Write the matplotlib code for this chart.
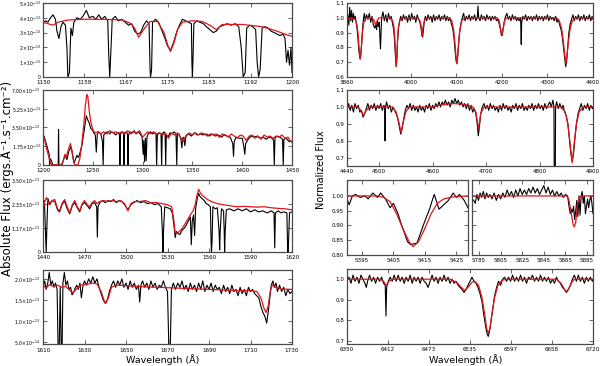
import matplotlib
matplotlib.use("Agg")
import matplotlib.pyplot as plt

plt.rcParams['font.family'] = ['DejaVu Sans']
plt.rcParams['mathtext.fontset'] = 'dejavusans'

FLUX_UNIT = 1e-13

# ---------------- UV panels (flux in units of 1e-13) ----------------
L1_MODEL = [(1150, 3.7), (1151, 3.6), (1152, 3.5), (1153, 3.7), (1155, 3.85), (1158, 3.9), (1162, 3.9),
            (1166, 3.85), (1167.7, 3.6), (1168.4, 3.3), (1169.2, 2.68), (1170.4, 3.3), (1171.5, 3.75),
            (1173, 3.75), (1174.3, 3.0), (1175, 2.2), (1175.6, 1.72), (1176.3, 2.3), (1177, 3.2),
            (1178, 3.7), (1180, 3.8), (1182, 3.75), (1183.5, 3.5), (1184.8, 3.2), (1186, 3.55),
            (1190, 3.55), (1194, 3.4), (1197, 3.1), (1198.5, 2.9), (1200, 2.75)]
L1_OBS = [(1150.0, 3.6), (1150.5, 3.8), (1151.0, 3.7), (1151.5, 4.0), (1152.0, 4.2), (1152.5, 3.9),
          (1152.8, 3.1), (1153.2, 2.6), (1153.6, 3.4), (1154.0, 3.7), (1154.5, 3.5), (1154.8, 2.0),
          (1155.0, 0.0), (1155.3, 0.3), (1155.6, 3.3), (1155.9, 2.8), (1156.2, 3.7), (1156.8, 4.0),
          (1157.5, 3.9), (1158.0, 4.1), (1158.7, 4.5), (1159.3, 4.0), (1160.0, 4.1), (1160.6, 3.9),
          (1161.2, 4.2), (1161.8, 3.9), (1162.4, 4.1), (1163.0, 3.8), (1163.2, 1.5), (1163.4, 0.0),
          (1163.6, 1.5), (1163.9, 3.9), (1164.5, 4.1), (1165.1, 3.8), (1165.8, 3.9), (1166.5, 3.7),
          (1167.2, 3.5), (1167.8, 3.6), (1168.4, 3.1), (1169.0, 2.9), (1169.6, 3.0), (1170.2, 3.5),
          (1170.8, 3.8), (1171.3, 3.6), (1171.5, 0.5), (1171.6, 0.0), (1171.8, 0.5), (1172.0, 3.7),
          (1172.6, 3.9), (1173.2, 3.7), (1173.8, 3.2), (1174.5, 2.6), (1175.0, 2.1), (1175.6, 1.8),
          (1176.2, 2.3), (1176.8, 3.0), (1177.4, 3.5), (1178.0, 3.9), (1178.6, 3.8), (1179.2, 3.7),
          (1179.8, 3.6), (1179.9, 1.0), (1180.0, 0.0), (1180.1, 1.0), (1180.3, 3.6), (1180.9, 3.8),
          (1181.5, 3.7), (1182.2, 3.6), (1182.8, 3.4), (1183.5, 3.2), (1184.2, 3.0), (1184.8, 3.1),
          (1185.5, 3.4), (1186.2, 3.5), (1187.0, 3.6), (1187.8, 3.5), (1188.6, 3.6), (1189.3, 3.4),
          (1189.8, 2.0), (1190.2, 0.0), (1190.6, 0.3), (1190.9, 3.3), (1191.5, 3.5), (1192.1, 3.4),
          (1192.7, 3.2), (1193.0, 1.0), (1193.3, 0.0), (1193.6, 0.5), (1194.0, 3.3), (1194.6, 3.4),
          (1195.2, 3.3), (1195.8, 3.1), (1196.4, 3.0), (1197.0, 2.9), (1197.6, 2.8), (1198.2, 2.9),
          (1198.6, 2.6), (1198.9, 1.0), (1199.2, 1.8), (1199.5, 0.8), (1199.8, 2.0), (1200.0, 0.3)]

L2_MODEL = [(1200, 2.8), (1202, 2.2), (1204, 1.4), (1206, 0.7), (1208, 0.1), (1210, 0.0), (1218, 0.0),
            (1220, 0.3), (1222, 1.0), (1223.5, 0.8), (1225, 1.3), (1227.5, 2.0), (1229.5, 1.2),
            (1231, 0.2), (1232.5, 0.0), (1235, 0.0), (1237, 0.6), (1239, 2.0), (1241, 3.8),
            (1242.5, 5.5), (1244, 6.6), (1245, 6.4), (1246.5, 5.0), (1248, 4.0), (1250, 3.3),
            (1252, 3.0), (1255, 3.1), (1258, 2.9), (1261, 3.1), (1264, 2.9), (1267, 3.2), (1270, 3.0),
            (1273, 3.1), (1276, 2.9), (1279, 3.1), (1282, 2.9), (1285, 3.2), (1288, 2.9), (1291, 3.1),
            (1294, 3.0), (1297, 3.2), (1300, 2.6), (1302, 2.8), (1305, 3.1), (1308, 2.9), (1311, 3.1),
            (1314, 2.9), (1317, 3.0), (1320, 2.8), (1323, 3.0), (1326, 2.5), (1329, 3.0), (1332, 2.8),
            (1335, 3.0), (1338, 2.6), (1341, 2.2), (1344, 2.8), (1347, 3.0), (1350, 2.8), (1353, 3.0),
            (1356, 2.8), (1359, 3.0), (1362, 2.9), (1365, 2.7), (1368, 2.9), (1371, 2.8), (1374, 2.9),
            (1377, 2.6), (1380, 2.9), (1383, 2.8), (1386, 2.6), (1389, 2.9), (1392, 2.7), (1395, 2.5),
            (1398, 2.8), (1401, 2.7), (1404, 2.3), (1407, 2.7), (1410, 2.8), (1413, 2.5), (1416, 2.7),
            (1419, 2.4), (1422, 2.8), (1425, 2.6), (1428, 2.7), (1431, 2.5), (1434, 2.7), (1437, 2.6),
            (1440, 2.8), (1443, 2.5), (1446, 2.6), (1448, 2.3), (1450, 2.1)]
L2_OBS = [(1200, 2.6), (1201, 2.7), (1202, 2.4), (1203.5, 1.9), (1205, 1.4), (1206.2, 1.0), (1206.6, 0.0),
          (1207, 0.6), (1208, 0.5), (1209.5, 0.1), (1211, 0.0), (1215.3, 0.0), (1215.6, 3.3),
          (1216.0, 0.0), (1219, 0.0), (1221, 0.6), (1222.5, 0.9), (1224, 0.5), (1226, 1.3), (1228, 1.7),
          (1229.5, 1.0), (1231, 0.2), (1232.5, 0.5), (1234, 0.9), (1235.5, 0.7), (1237, 1.1),
          (1239, 1.8), (1241, 3.0), (1242.5, 4.0), (1243.5, 4.6), (1245, 4.2), (1246.5, 3.9),
          (1248, 3.4), (1249.5, 3.3), (1251, 3.0), (1252.5, 2.8), (1253.5, 1.2), (1254.5, 2.9),
          (1256, 3.1), (1258, 2.9), (1259.7, 2.2), (1260.4, 0.0), (1261, 2.8), (1263, 3.0), (1265, 3.1),
          (1267, 2.9), (1269, 3.1), (1271, 3.0), (1273, 2.8), (1275, 3.0), (1276.7, 3.0), (1277.2, 0.0),
          (1277.8, 2.9), (1279.5, 3.1), (1280.8, 3.0), (1281.3, 0.0), (1281.9, 3.0), (1283.5, 3.1),
          (1284.8, 2.9), (1285.3, 0.0), (1285.8, 2.8), (1287.5, 3.1), (1289.5, 3.0), (1291.5, 3.2),
          (1293.5, 2.9), (1295.5, 3.1), (1297.5, 2.9), (1299.5, 2.6), (1300.6, 1.0), (1301.2, 2.3),
          (1302, 0.3), (1302.8, 2.5), (1303.6, 0.4), (1304.4, 2.6), (1306, 3.0), (1308, 3.1),
          (1310, 2.9), (1312, 3.0), (1313.5, 2.9), (1314.1, 0.0), (1314.8, 2.8), (1316.5, 3.0),
          (1318.5, 2.9), (1319.1, 0.0), (1319.7, 2.9), (1321.5, 3.1), (1322.6, 2.8), (1323.2, 0.0),
          (1323.8, 2.8), (1325.5, 2.6), (1327.5, 3.0), (1329.5, 2.9), (1331.5, 3.1), (1333.5, 2.9),
          (1334.3, 0.0), (1334.9, 2.8), (1336.5, 2.9), (1338.5, 2.4), (1339.4, 1.6), (1340.3, 2.5),
          (1341.5, 2.6), (1342.4, 1.8), (1343.5, 2.7), (1346, 2.9), (1349, 2.7), (1352, 3.0),
          (1355, 2.8), (1358, 2.9), (1361, 2.8), (1364, 2.9), (1367, 2.7), (1370, 2.9), (1373, 2.7),
          (1376, 2.8), (1379, 2.6), (1382, 2.8), (1385, 2.7), (1388, 2.6), (1390.5, 2.0), (1391.3, 0.8),
          (1392, 2.2), (1394, 2.6), (1397, 2.5), (1400, 2.5), (1401.5, 1.8), (1402.6, 1.0),
          (1403.5, 2.0), (1406, 2.4), (1409, 2.7), (1412, 2.6), (1415, 2.7), (1418, 2.5), (1421, 2.6),
          (1424, 2.4), (1427, 2.6), (1430, 2.5), (1431.5, 2.3), (1432.2, 0.0), (1432.9, 2.5),
          (1435, 2.7), (1438, 2.6), (1440.5, 2.4), (1441.2, 0.0), (1441.9, 2.4), (1444, 2.5),
          (1447, 2.2), (1450, 2.2)]

L3_MODEL = [(1440, 2.0), (1441, 2.4), (1442.5, 2.65), (1444.5, 2.3), (1446.5, 2.5), (1448.5, 2.55),
            (1450.5, 2.1), (1452, 2.0), (1454, 2.4), (1455.7, 2.55), (1457.5, 2.2), (1459.3, 1.9),
            (1461.2, 2.3), (1463, 2.5), (1464.8, 2.2), (1466.5, 2.0), (1468.3, 2.35), (1470, 2.5),
            (1472, 2.3), (1473.7, 2.2), (1475.5, 2.4), (1477.3, 2.5), (1479, 2.35), (1481, 2.45),
            (1484, 2.5), (1487, 2.45), (1490, 2.5), (1493, 2.45), (1496, 2.5), (1499, 2.35),
            (1501.4, 2.0), (1503.5, 2.35), (1506, 2.45), (1510, 2.45), (1514, 2.5), (1518, 2.4),
            (1522, 2.4), (1526, 2.35), (1530, 2.3), (1533, 2.2), (1534.5, 1.6), (1535.5, 0.95),
            (1537, 0.9), (1540, 1.1), (1543, 1.4), (1546, 1.75), (1548.5, 2.0), (1550, 2.3),
            (1551.5, 2.8), (1552.5, 3.05), (1554, 2.85), (1556, 2.7), (1559, 2.55), (1562, 2.45),
            (1566, 2.35), (1570, 2.3), (1575, 2.25), (1580, 2.2), (1585, 2.22), (1590, 2.2),
            (1595, 2.18), (1600, 2.2), (1605, 2.15), (1610, 2.12), (1615, 2.1), (1620, 2.05)]
L3_OBS = [(1440, 1.9), (1441, 2.5), (1441.8, 1.0), (1442.3, 0.0), (1442.8, 1.2), (1443.5, 2.6),
          (1445, 2.3), (1446.5, 2.5), (1448.5, 2.45), (1450.5, 2.05), (1452, 1.95), (1454, 2.35),
          (1455.7, 2.45), (1457.5, 2.1), (1459.3, 1.85), (1461.2, 2.25), (1463, 2.4), (1464.8, 2.15),
          (1466.5, 1.95), (1468.3, 2.3), (1470, 2.4), (1472, 2.25), (1473.7, 2.1), (1475.5, 2.35),
          (1477.3, 2.4), (1478.8, 2.2), (1479.3, 0.72), (1479.8, 2.2), (1481, 2.4), (1483, 2.5),
          (1485, 2.4), (1487, 2.5), (1489, 2.45), (1491, 2.55), (1493, 2.4), (1495, 2.5), (1497, 2.45),
          (1499, 2.3), (1501.4, 2.05), (1503.5, 2.3), (1505.5, 2.4), (1508, 2.5), (1510.5, 2.4),
          (1513, 2.45), (1515.5, 2.35), (1518, 2.4), (1520.5, 2.3), (1523, 2.35), (1525.5, 2.2),
          (1526.3, 1.0), (1526.7, 0.0), (1527.1, 1.0), (1528, 2.2), (1530, 2.15), (1532, 2.1),
          (1533.5, 1.9), (1534.8, 1.2), (1535.6, 0.7), (1536.4, 1.0), (1537.5, 0.9), (1539, 0.85),
          (1540.5, 1.05), (1542, 1.15), (1543.5, 1.3), (1545, 1.5), (1546.5, 1.7), (1547.2, 0.35),
          (1547.9, 1.5), (1548.8, 1.8), (1549.6, 0.8), (1550.3, 2.1), (1551.5, 2.6), (1552.5, 2.85),
          (1553.5, 2.7), (1555, 2.6), (1556.5, 2.5), (1558, 2.35), (1559.5, 2.3), (1561, 2.2),
          (1561.5, 0.5), (1561.8, 0.0), (1562.2, 0.5), (1562.8, 2.2), (1564.5, 2.1), (1566, 2.15),
          (1567.3, 1.0), (1567.7, 0.1), (1568.1, 1.0), (1569, 2.1), (1570.5, 2.0), (1571, 1.0),
          (1571.3, 0.0), (1571.7, 1.0), (1572.5, 2.05), (1575, 2.1), (1578, 2.0), (1581, 2.1),
          (1584, 2.0), (1587, 2.1), (1590, 1.95), (1593, 2.05), (1596, 1.95), (1599, 2.0), (1602, 1.9),
          (1605, 2.0), (1607, 1.9), (1607.5, 0.2), (1608, 1.9), (1610, 2.0), (1612, 1.9), (1614, 1.95),
          (1616.3, 1.9), (1616.8, 0.3), (1617.1, 0.0), (1617.5, 0.5), (1618.2, 1.9), (1620, 1.95)]

L4_MODEL = [(1610, 1.85), (1611.5, 1.78), (1613, 1.86), (1615, 1.82), (1617, 1.85), (1619, 1.8),
            (1621, 1.82), (1623, 1.72), (1624.5, 1.67), (1626, 1.75), (1628, 1.85), (1631, 1.87),
            (1634, 1.9), (1636, 1.88), (1638, 1.7), (1639.5, 1.48), (1640.3, 1.42), (1641.5, 1.55),
            (1643, 1.8), (1645, 1.85), (1650, 1.84), (1655, 1.82), (1660, 1.81), (1665, 1.8),
            (1670, 1.79), (1675, 1.78), (1680, 1.77), (1685, 1.76), (1690, 1.75), (1695, 1.74),
            (1700, 1.73), (1705, 1.72), (1710, 1.72), (1713, 1.7), (1715, 1.55), (1716.5, 1.3),
            (1717.5, 1.2), (1718.5, 1.35), (1719.5, 1.7), (1720.5, 1.86), (1722, 1.8), (1725, 1.76),
            (1730, 1.75)]
L4_OBS = [(1610, 1.8), (1610.8, 1.95), (1611.5, 1.75), (1612.3, 1.9), (1613, 2.15), (1613.8, 1.85),
          (1614.5, 1.95), (1615.3, 1.8), (1616, 1.9), (1616.8, 1.75), (1617.3, 0.3), (1617.8, 0.3),
          (1618.3, 1.8), (1618.8, 0.3), (1619.2, 0.3), (1619.6, 1.9), (1620.3, 2.15), (1621, 1.85),
          (1621.8, 1.95), (1622.5, 1.75), (1623.3, 1.8), (1624, 1.62), (1624.8, 1.68), (1625.5, 1.78),
          (1626.3, 1.85), (1627, 1.75), (1627.8, 1.9), (1628.5, 1.55), (1629.3, 1.85), (1630, 1.95),
          (1631, 1.85), (1632, 2.0), (1633, 1.9), (1634, 2.05), (1635, 1.9), (1636, 2.0), (1637, 1.8),
          (1638, 1.65), (1639, 1.5), (1640, 1.42), (1641, 1.5), (1642, 1.7), (1643, 1.85), (1644, 1.95),
          (1645, 1.8), (1646, 1.95), (1647, 1.85), (1648, 2.0), (1649, 1.8), (1650, 1.9), (1651, 1.75),
          (1652, 1.95), (1653, 1.8), (1654, 1.9), (1655, 1.75), (1656, 1.85), (1656.6, 1.45),
          (1657.2, 1.85), (1658, 1.95), (1659, 1.8), (1660, 1.9), (1661, 1.75), (1662, 1.95),
          (1663, 1.8), (1664, 1.9), (1665, 1.75), (1666, 1.85), (1667, 1.8), (1668, 1.95), (1669, 1.8),
          (1670, 1.7), (1670.7, 0.3), (1671.3, 0.3), (1671.9, 1.75), (1672.8, 1.9), (1673.8, 1.75),
          (1675, 1.9), (1676, 1.8), (1677, 1.95), (1678, 1.75), (1679, 1.85), (1680, 1.7), (1681, 1.9),
          (1682, 1.75), (1683, 1.85), (1684, 1.7), (1685, 1.9), (1686, 1.75), (1687, 1.95), (1688, 1.7),
          (1689, 1.85), (1690, 1.75), (1691, 1.9), (1692, 1.7), (1693, 1.85), (1694, 1.75), (1695, 1.8),
          (1696, 1.65), (1697, 1.85), (1698, 1.7), (1699, 1.8), (1700, 1.65), (1701, 1.85), (1702, 1.7),
          (1703, 1.75), (1704, 1.6), (1705, 1.8), (1706, 1.65), (1707, 1.75), (1708, 1.6), (1709, 1.8),
          (1710, 1.7), (1711, 1.75), (1712, 1.65), (1713, 1.6), (1714, 1.55), (1715, 1.35), (1716, 1.2),
          (1717, 1.1), (1717.8, 0.95), (1718.5, 1.2), (1719.3, 1.55), (1720, 1.85), (1720.8, 1.95),
          (1721.5, 1.8), (1722.3, 1.9), (1723, 1.7), (1724, 1.85), (1725, 1.7), (1726, 1.8),
          (1727, 1.6), (1728, 1.75), (1729, 1.65), (1730, 1.7)]

# ---------------- Optical panels (normalized flux) ----------------
R1_MODEL = [(3860, 0.99), (3870, 1.0), (3878, 0.99), (3882, 0.95), (3884, 0.9), (3886, 0.82), (3888, 0.74),
            (3889, 0.72), (3890, 0.74), (3892, 0.82), (3894, 0.9), (3897, 0.97), (3902, 1.0), (3915, 1.0),
            (3920, 0.98), (3923, 0.95), (3926, 0.98), (3930, 1.0), (3955, 1.0), (3960, 0.98), (3963, 0.94),
            (3965, 0.86), (3966.5, 0.76), (3968, 0.675), (3969.5, 0.76), (3971, 0.86), (3973, 0.94),
            (3976, 0.98), (3982, 1.0), (4015, 1.0), (4020, 0.98), (4023, 0.94), (4025, 0.88), (4027, 0.94),
            (4030, 0.98), (4035, 1.0), (4085, 1.0), (4090, 0.98), (4094, 0.92), (4097, 0.83), (4099, 0.75),
            (4101, 0.69), (4103, 0.75), (4105, 0.83), (4108, 0.92), (4112, 0.98), (4118, 1.0), (4190, 1.0),
            (4194, 0.98), (4197, 0.93), (4200, 0.88), (4203, 0.93), (4206, 0.98), (4210, 1.0), (4320, 1.0),
            (4326, 0.98), (4331, 0.93), (4335, 0.84), (4338, 0.75), (4340.5, 0.69), (4343, 0.75),
            (4346, 0.84), (4350, 0.93), (4355, 0.98), (4362, 1.0), (4400, 1.0)]
R1_OBS = [(3860, 0.92), (3862, 1.02), (3864, 0.95), (3866, 1.07), (3868, 0.98), (3870, 1.05), (3872, 0.97),
          (3874, 1.03), (3876, 0.99), (3878, 1.01), (3880, 0.97), (3882, 0.93), (3884, 0.86), (3886, 0.78),
          (3888, 0.73), (3890, 0.74), (3892, 0.82), (3894, 0.92), (3896, 0.99), (3898, 1.03), (3900, 0.98),
          (3903, 1.02), (3906, 0.99), (3909, 1.03), (3912, 0.97), (3915, 1.01), (3918, 0.95), (3921, 0.93),
          (3923, 0.96), (3925, 0.92), (3927, 0.98), (3929, 0.94), (3931, 0.97), (3932.5, 0.85),
          (3933.5, 0.79), (3934.5, 0.88), (3936, 1.0), (3939, 1.04), (3942, 0.98), (3945, 1.02),
          (3948, 0.97), (3951, 1.03), (3954, 0.99), (3957, 1.01), (3960, 0.96), (3962.5, 0.92),
          (3964.5, 0.84), (3966.5, 0.73), (3968, 0.67), (3969.5, 0.72), (3971, 0.84), (3973, 0.93),
          (3975.5, 0.98), (3978, 1.01), (3981, 0.98), (3984, 1.02), (3987, 0.99), (3990, 1.01),
          (3993, 0.97), (3996, 1.02), (3999, 0.98), (4002, 1.03), (4005, 0.99), (4008, 1.01), (4011, 0.97),
          (4014, 1.02), (4017, 0.99), (4020, 0.97), (4022.5, 0.93), (4024.5, 0.88), (4026, 0.87),
          (4027.5, 0.91), (4029.5, 0.97), (4032, 1.01), (4035, 0.98), (4038, 1.02), (4041, 0.99),
          (4044, 1.01), (4047, 0.97), (4050, 1.02), (4053, 0.98), (4056, 1.01), (4059, 0.99), (4062, 1.02),
          (4065, 0.98), (4068, 1.01), (4071, 0.99), (4074, 1.02), (4077, 0.98), (4080, 1.01), (4083, 0.98),
          (4086, 1.0), (4089, 0.96), (4092, 0.93), (4095, 0.86), (4097.5, 0.77), (4099.5, 0.71),
          (4101, 0.69), (4102.5, 0.72), (4104.5, 0.8), (4107, 0.9), (4110, 0.96), (4113, 1.0), (4116, 1.03),
          (4119, 0.98), (4122, 1.01), (4125, 0.99), (4128, 1.02), (4131, 0.98), (4134, 1.01), (4137, 0.99),
          (4140, 1.02), (4143, 0.98), (4146, 1.0), (4147.5, 1.08), (4149, 1.0), (4152, 0.98), (4155, 1.02),
          (4158, 0.99), (4161, 1.01), (4164, 0.98), (4167, 1.02), (4170, 0.99), (4173, 1.01), (4176, 0.98),
          (4179, 1.01), (4182, 0.99), (4185, 1.01), (4188, 0.98), (4191, 0.99), (4194, 0.96), (4197, 0.92),
          (4199, 0.88), (4200.5, 0.88), (4202.5, 0.92), (4205, 0.97), (4208, 1.01), (4211, 1.03),
          (4214, 0.99), (4217, 1.01), (4220, 0.98), (4223, 1.02), (4226, 0.99), (4229, 1.01), (4232, 0.98),
          (4235, 1.0), (4238, 0.98), (4241, 1.0), (4242.5, 0.82), (4243.5, 0.97), (4246, 1.01),
          (4249, 0.99), (4252, 1.02), (4255, 0.98), (4258, 1.01), (4261, 0.99), (4264, 1.01), (4267, 0.98),
          (4270, 1.01), (4273, 0.99), (4276, 1.02), (4279, 0.98), (4282, 1.01), (4285, 0.99), (4288, 1.01),
          (4291, 0.98), (4294, 1.01), (4297, 0.99), (4300, 1.02), (4303, 0.98), (4306, 1.01), (4309, 0.99),
          (4312, 1.0), (4315, 0.98), (4318, 1.01), (4321, 0.97), (4324, 0.99), (4327, 0.95), (4330, 0.92),
          (4333, 0.86), (4335.5, 0.79), (4338, 0.72), (4340, 0.67), (4342, 0.7), (4344.5, 0.8),
          (4347, 0.9), (4350, 0.96), (4353, 0.99), (4356, 1.02), (4359, 0.98), (4362, 1.01), (4365, 0.99),
          (4368, 1.02), (4371, 0.98), (4374, 1.01), (4377, 0.99), (4380, 1.02), (4383, 0.98), (4386, 1.01),
          (4389, 0.99), (4392, 1.02), (4395, 0.98), (4398, 1.01), (4400, 0.99)]

R2_MODEL = [(4440, 1.0), (4460, 1.0), (4466, 0.98), (4471, 0.95), (4476, 0.98), (4482, 1.0), (4525, 1.0),
            (4532, 0.97), (4537, 0.91), (4541, 0.85), (4545, 0.91), (4550, 0.97), (4557, 1.0), (4600, 1.0),
            (4620, 1.015), (4640, 1.02), (4660, 1.015), (4675, 1.0), (4681, 0.97), (4686, 0.87),
            (4690, 0.96), (4696, 1.0), (4840, 1.0), (4848, 0.97), (4853, 0.9), (4857, 0.79), (4861, 0.67),
            (4865, 0.79), (4869, 0.9), (4874, 0.97), (4882, 1.0), (4900, 1.0)]
R2_OBS = [(4440, 0.99), (4443, 1.02), (4446, 0.98), (4449, 1.01), (4452, 0.97), (4455, 1.02), (4458, 0.99),
          (4461, 1.01), (4464, 0.97), (4467, 0.98), (4470, 0.94), (4473, 0.96), (4476, 0.99), (4479, 1.02),
          (4482, 0.98), (4485, 1.01), (4488, 0.99), (4491, 1.02), (4494, 0.98), (4497, 1.01), (4500, 0.99),
          (4503, 1.02), (4506, 0.98), (4509, 1.01), (4510.5, 1.0), (4511.2, 0.8), (4512, 1.0),
          (4514, 1.03), (4517, 0.99), (4520, 1.01), (4523, 0.97), (4526, 1.0), (4529, 0.98), (4532, 0.96),
          (4535, 0.93), (4538, 0.88), (4540.5, 0.84), (4543, 0.87), (4546, 0.93), (4549, 0.98),
          (4552, 1.01), (4555, 0.99), (4558, 1.02), (4561, 0.98), (4564, 1.01), (4567, 0.98), (4570, 1.0),
          (4573, 0.97), (4576, 1.01), (4579, 0.98), (4582, 1.0), (4585, 0.97), (4588, 1.01), (4591, 0.99),
          (4594, 1.02), (4597, 0.98), (4600, 1.01), (4603, 0.99), (4606, 1.02), (4609, 1.0), (4612, 1.03),
          (4615, 1.0), (4618, 1.03), (4621, 1.01), (4624, 1.04), (4627, 1.01), (4630, 1.03), (4633, 1.0),
          (4636, 1.04), (4639, 1.02), (4642, 1.05), (4645, 1.02), (4648, 1.04), (4651, 1.01), (4654, 1.03),
          (4657, 1.0), (4660, 1.02), (4663, 0.99), (4666, 1.02), (4669, 0.98), (4672, 1.01), (4675, 0.97),
          (4678, 0.99), (4681, 0.96), (4683.5, 0.9), (4685.5, 0.83), (4687.5, 0.88), (4690, 0.96),
          (4693, 1.0), (4696, 1.02), (4699, 0.99), (4702, 1.01), (4705, 0.98), (4708, 1.02), (4711, 0.99),
          (4714, 1.01), (4717, 0.98), (4720, 1.0), (4723, 0.97), (4726, 1.01), (4729, 0.98), (4732, 1.02),
          (4735, 0.99), (4738, 1.01), (4741, 0.98), (4744, 1.0), (4747, 0.97), (4750, 1.01), (4753, 0.99),
          (4756, 1.02), (4759, 0.98), (4762, 1.01), (4765, 0.99), (4768, 1.02), (4771, 0.98), (4774, 1.0),
          (4777, 0.98), (4780, 1.01), (4783, 0.99), (4786, 1.02), (4789, 0.98), (4792, 1.01), (4795, 0.99),
          (4798, 1.02), (4801, 0.99), (4804, 1.01), (4807, 0.98), (4810, 1.02), (4813, 0.99), (4816, 1.01),
          (4819, 1.03), (4822, 1.0), (4825, 1.04), (4827, 1.0), (4827.5, 0.6), (4829.5, 0.6), (4830, 1.0),
          (4832, 1.03), (4835, 0.99), (4838, 1.02), (4841, 0.99), (4844, 1.01), (4847, 0.97), (4850, 0.95),
          (4853, 0.9), (4856, 0.81), (4858.5, 0.73), (4861, 0.68), (4863.5, 0.72), (4866, 0.81),
          (4869, 0.9), (4872, 0.96), (4875, 0.99), (4878, 1.02), (4881, 0.98), (4884, 1.01), (4887, 0.99),
          (4890, 1.02), (4893, 0.98), (4896, 1.01), (4899, 0.99), (4900, 1.0)]

R3A_MODEL = [(5390.3, 1.0), (5400, 1.0), (5402, 0.995), (5404, 0.98), (5406, 0.94), (5408, 0.89),
             (5410, 0.845), (5411.3, 0.828), (5413, 0.845), (5415, 0.89), (5417, 0.94), (5419, 0.975),
             (5421, 0.99), (5424, 0.997), (5428.7, 1.0)]
R3A_OBS = [(5390.3, 0.99), (5391, 0.97), (5392, 1.0), (5393, 1.005), (5394.5, 0.995), (5396, 1.0),
           (5397, 0.99), (5398.5, 1.01), (5400, 0.995), (5401, 1.01), (5402.5, 0.99), (5404, 0.96),
           (5405, 0.975), (5406.5, 0.94), (5407.5, 0.905), (5408.5, 0.875), (5409.5, 0.845),
           (5410.5, 0.835), (5411.5, 0.838), (5412.5, 0.84), (5413.5, 0.87), (5415, 0.915),
           (5416.5, 0.955), (5417.5, 0.99), (5418, 1.005), (5419.5, 0.955), (5421, 0.97), (5422.5, 0.985),
           (5424, 1.01), (5425, 0.995), (5426, 1.005), (5427.5, 0.985), (5428.7, 0.96)]

R3B_MODEL = [(5778.5, 1.0), (5866, 1.0), (5868, 0.99), (5870, 0.95), (5872, 0.905), (5873.2, 0.895),
             (5874.5, 0.91), (5876, 0.97), (5878, 0.997), (5880, 1.0), (5890.5, 1.0)]
R3B_OBS = [(5778.5, 0.99), (5780, 0.985), (5781.5, 0.975), (5783, 1.005), (5784.5, 0.985), (5786, 1.01),
           (5787.5, 0.995), (5789, 1.015), (5790.5, 0.99), (5792, 1.01), (5793.5, 0.995), (5795, 1.005),
           (5797, 0.99), (5799, 1.01), (5801, 0.985), (5803, 1.005), (5805, 0.99), (5807, 1.01),
           (5809, 0.995), (5811, 1.02), (5813, 1.0), (5815, 1.015), (5817, 0.995), (5819, 1.02),
           (5821, 1.0), (5823, 1.025), (5825, 1.005), (5827, 1.02), (5829, 1.005), (5831, 1.025),
           (5833, 1.01), (5835, 1.03), (5837, 1.01), (5839, 1.025), (5841, 1.005), (5843, 1.02),
           (5845, 1.035), (5847, 1.01), (5849, 1.03), (5851, 1.005), (5853, 1.02), (5855, 1.0),
           (5857, 1.015), (5859, 1.0), (5861, 1.01), (5863, 0.995), (5865, 1.005), (5867, 1.0),
           (5868.5, 0.96), (5869.5, 0.94), (5870.5, 0.955), (5871.5, 0.945), (5872.5, 0.965),
           (5873.5, 0.92), (5874.5, 0.95), (5875.5, 0.985), (5876.5, 0.93), (5877.5, 1.0), (5878.5, 0.935),
           (5879.5, 1.0), (5880.5, 1.015), (5881.5, 0.975), (5882.5, 1.0), (5883.5, 0.94), (5884.5, 0.965),
           (5885.5, 0.99), (5886.5, 0.96), (5887.5, 0.985), (5888.5, 1.0), (5889.5, 0.975), (5890.5, 0.94)]

R4_MODEL = [(6350, 1.0), (6400, 1.0), (6405, 0.99), (6409, 0.97), (6413, 0.99), (6418, 1.0), (6505, 1.0),
            (6515, 0.985), (6522, 0.96), (6527, 0.945), (6532, 0.96), (6538, 0.985), (6542, 0.99),
            (6548, 0.97), (6553, 0.91), (6557, 0.83), (6560, 0.76), (6562.5, 0.735), (6565, 0.76),
            (6568, 0.83), (6572, 0.91), (6577, 0.97), (6583, 0.995), (6590, 1.0), (6665, 1.0), (6672, 0.98),
            (6677, 0.95), (6680, 0.94), (6683, 0.95), (6687, 0.98), (6692, 1.0), (6720, 1.0)]
R4_OBS = [(6350, 0.99), (6353, 1.01), (6356, 0.98), (6359, 1.02), (6362, 0.99), (6365, 1.01), (6368, 0.98),
          (6371, 1.02), (6374, 1.0), (6377, 0.98), (6379, 0.96), (6381, 0.99), (6384, 1.02), (6387, 0.99),
          (6390, 1.01), (6393, 0.98), (6396, 1.01), (6399, 0.99), (6402, 1.01), (6405, 0.98),
          (6407.5, 0.97), (6408.6, 0.82), (6409.6, 0.96), (6412, 0.99), (6415, 1.01), (6418, 0.99),
          (6421, 1.02), (6424, 0.99), (6427, 1.02), (6430, 0.99), (6433, 1.01), (6436, 0.98), (6439, 1.01),
          (6442, 0.99), (6445, 1.02), (6448, 0.98), (6451, 1.01), (6454, 0.99), (6457, 1.01), (6460, 0.98),
          (6463, 1.01), (6466, 0.99), (6469, 0.98), (6472, 0.96), (6475, 0.99), (6478, 1.02), (6481, 0.99),
          (6484, 1.01), (6487, 0.98), (6490, 1.01), (6493, 0.99), (6496, 1.02), (6499, 0.99), (6502, 1.01),
          (6505, 0.98), (6508, 1.0), (6511, 0.98), (6514, 0.99), (6517, 0.97), (6520, 0.96), (6523, 0.95),
          (6526, 0.935), (6529, 0.95), (6532, 0.97), (6535, 0.99), (6538, 1.01), (6541, 0.99), (6544, 0.98),
          (6547, 0.96), (6550, 0.93), (6553, 0.89), (6556, 0.82), (6559, 0.76), (6561, 0.73),
          (6562.5, 0.72), (6564, 0.74), (6566, 0.78), (6569, 0.85), (6572, 0.92), (6575, 0.96),
          (6578, 0.99), (6581, 0.97), (6584, 1.0), (6587, 1.01), (6590, 0.99), (6593, 1.01), (6596, 0.99),
          (6599, 1.02), (6602, 0.99), (6605, 1.01), (6608, 0.99), (6611, 1.02), (6614, 0.99), (6617, 1.01),
          (6620, 0.98), (6623, 1.01), (6626, 1.0), (6629, 1.02), (6632, 0.99), (6635, 1.01), (6638, 0.99),
          (6641, 1.02), (6644, 0.99), (6647, 1.01), (6650, 0.99), (6653, 1.01), (6656, 0.98), (6659, 1.0),
          (6662, 0.98), (6665, 1.01), (6668, 0.99), (6671, 0.98), (6674, 0.96), (6677, 0.95),
          (6680, 0.935), (6683, 0.95), (6686, 0.97), (6689, 1.0), (6692, 1.02), (6695, 0.99),
          (6698, 1.02), (6701, 0.99), (6704, 1.01), (6707, 0.98), (6710, 1.01), (6713, 0.99), (6716, 1.01),
          (6719, 0.99), (6720, 1.0)]

# ---------------- ticks ----------------
L1_XTICKS = [1150, 1158.33, 1166.67, 1175, 1183.33, 1191.67, 1200]
L1_XLABELS = ['1150', '1158', '1167', '1175', '1183', '1192', '1200']
L2_XTICKS = [1200, 1250, 1300, 1350, 1400, 1450]
L3_XTICKS = [1440, 1470, 1500, 1530, 1560, 1590, 1620]
L4_XTICKS = [1610, 1630, 1650, 1670, 1690, 1710, 1730]
L1_YTICKS = [0, 1, 2, 3, 4, 5]
L1_YLABELS = ['0', r'$1\!\times\!10^{-13}$', r'$2\!\times\!10^{-13}$', r'$3\!\times\!10^{-13}$',
              r'$4\!\times\!10^{-13}$', r'$5\!\times\!10^{-13}$']
L2_YTICKS = [0, 1.75, 3.5, 5.25, 7.0]
L2_YLABELS = ['0', r'$1.75\!\times\!10^{-13}$', r'$3.50\!\times\!10^{-13}$', r'$5.25\!\times\!10^{-13}$',
              r'$7.00\!\times\!10^{-13}$']
L3_YTICKS = [0, 3.5 / 3, 7.0 / 3, 3.5]
L3_YLABELS = ['0', r'$1.17\!\times\!10^{-13}$', r'$2.33\!\times\!10^{-13}$', r'$3.50\!\times\!10^{-13}$']
L4_YTICKS = [0.5, 1.0, 1.5, 2.0]
L4_YLABELS = [r'$5.0\!\times\!10^{-14}$', r'$1.0\!\times\!10^{-13}$', r'$1.5\!\times\!10^{-13}$',
              r'$2.0\!\times\!10^{-13}$']

R1_XTICKS = [3860, 4000, 4100, 4200, 4300, 4400]
R2_XTICKS = [4440, 4500, 4600, 4700, 4800, 4900]
R3A_XTICKS = [5395, 5405, 5415, 5425]
R3B_XTICKS = [5785, 5805, 5825, 5845, 5865, 5885]
R4_XTICKS = [6350, 6411.67, 6473.33, 6535, 6596.67, 6658.33, 6720]
R4_XLABELS = ['6350', '6412', '6473', '6535', '6597', '6658', '6720']
R1_YTICKS = [0.6, 0.7, 0.8, 0.9, 1.0, 1.1]
R2_YTICKS = [0.7, 0.8, 0.9, 1.0, 1.1]
R3_YTICKS = [0.80, 0.85, 0.90, 0.95, 1.00]
R4_YTICKS = [0.7, 0.8, 0.9, 1.0]

W, H = 600, 366
fig = plt.figure(figsize=(W / 100, H / 100), dpi=100)

RED = '#e0151b'
FRAME = '#4a4a4a'
TICK_FS = 4.1
LEFT_YTICK_FS = 3.4


def make_ax(x0, x1, top, bottom):
    ax = fig.add_axes([x0 / W, 1 - bottom / H, (x1 - x0) / W, (bottom - top) / H])
    for s in ax.spines.values():
        s.set_color(FRAME)
        s.set_linewidth(0.9)
    ax.tick_params(direction='in', length=3, width=0.6, colors=FRAME, labelcolor='black',
                   labelsize=TICK_FS, top=True, right=True, pad=2)
    return ax


def draw(ax, obs, model, scale=1.0):
    wo, fo = zip(*obs)
    wm, fm = zip(*model)
    ax.plot(wo, [f * scale for f in fo], color='black', lw=0.8)
    ax.plot(wm, [f * scale for f in fm], color=RED, lw=0.9)


LX0, LX1 = 43, 292
RX0, RX1 = 347, 593

left_specs = [
    (L1_OBS, L1_MODEL, (1150, 1200), (0, 5), L1_XTICKS, L1_XLABELS, L1_YTICKS, L1_YLABELS, 3, 77),
    (L2_OBS, L2_MODEL, (1200, 1450), (0, 7), L2_XTICKS, None, L2_YTICKS, L2_YLABELS, 90, 165),
    (L3_OBS, L3_MODEL, (1440, 1620), (0, 3.5), L3_XTICKS, None, L3_YTICKS, L3_YLABELS, 180, 252),
    (L4_OBS, L4_MODEL, (1610, 1730), (0.455, 2.21), L4_XTICKS, None, L4_YTICKS, L4_YLABELS, 270, 344),
]
for i, (obs, mod, xl, yl, xt, xtl, yt, ytl, top, bot) in enumerate(left_specs):
    ax = make_ax(LX0, LX1, top, bot)
    draw(ax, obs, mod, FLUX_UNIT)
    ax.set_xlim(*xl)
    ax.set_ylim(yl[0] * FLUX_UNIT, yl[1] * FLUX_UNIT)
    ax.set_xticks(xt)
    ax.set_xticklabels(xtl if xtl else [str(v) for v in xt])
    ax.set_yticks([v * FLUX_UNIT for v in yt])
    ax.set_yticklabels(ytl, fontsize=LEFT_YTICK_FS)
    ax.tick_params(axis='y', pad=1.5)
    if i == 3:
        ax.tick_params(axis='x', pad=3)

right_specs = [
    (R1_OBS, R1_MODEL, (3860, 4400), (0.6, 1.1), R1_XTICKS, None, R1_YTICKS, '%.1f', RX0, RX1, 3, 77),
    (R2_OBS, R2_MODEL, (4440, 4900), (0.652, 1.1), R2_XTICKS, None, R2_YTICKS, '%.1f', RX0, RX1, 90, 166),
    (R3A_OBS, R3A_MODEL, (5390.3, 5428.7), (0.80, 1.054), R3A_XTICKS, None, R3_YTICKS, '%.2f', RX0, 468, 180, 255),
    (R3B_OBS, R3B_MODEL, (5778.5, 5890.5), (0.80, 1.054), R3B_XTICKS, None, R3_YTICKS, None, 472, RX1, 180, 255),
    (R4_OBS, R4_MODEL, (6350, 6720), (0.683, 1.05), R4_XTICKS, R4_XLABELS, R4_YTICKS, '%.1f', RX0, RX1, 269, 344),
]
for obs, mod, xl, yl, xt, xtl, yt, yfmt, x0, x1, top, bot in right_specs:
    ax = make_ax(x0, x1, top, bot)
    draw(ax, obs, mod)
    ax.set_xlim(*xl)
    ax.set_ylim(*yl)
    ax.set_xticks(xt)
    ax.set_xticklabels(xtl if xtl else [str(v) for v in xt])
    ax.set_yticks(yt)
    if yfmt:
        ax.set_yticklabels([yfmt % v for v in yt])
    else:
        ax.set_yticklabels([])

fig.text(6.5 / W, 1 - 178 / H, 'Absolute Flux (ergs.Å\u207b\u00b9.s\u207b\u00b9.cm\u207b\u00b2)', rotation=90,
         ha='center', va='center', fontsize=8.5)
fig.text(321 / W, 1 - 170 / H, 'Normalized Flux', rotation=90, ha='center', va='center', fontsize=7)
fig.text(163 / W, 1 - 360 / H, 'Wavelength (Å)', ha='center', va='center', fontsize=6.8)
fig.text(466 / W, 1 - 360 / H, 'Wavelength (Å)', ha='center', va='center', fontsize=6.8)

fig.savefig('out.png', dpi=100)
